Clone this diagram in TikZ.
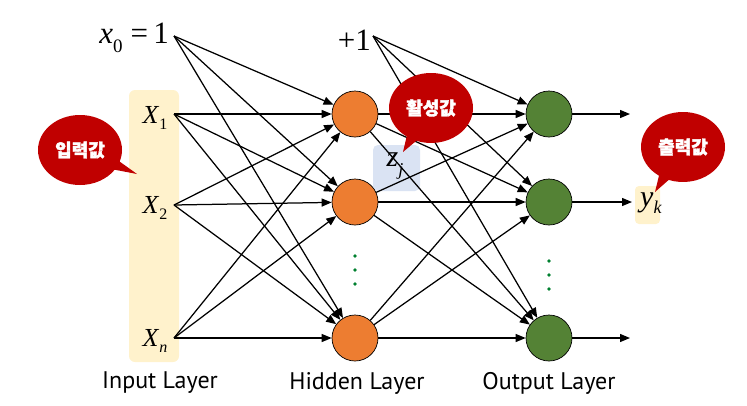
\documentclass[tikz,border=0pt]{standalone}
\usepackage{fontspec}
\setmainfont{Liberation Serif}
\newfontfamily\krfont{Noto Sans CJK KR}[FakeBold=2]
\newfontfamily\labfont{PT Sans}
\usetikzlibrary{arrows.meta,shapes.callouts,shapes.geometric}
\definecolor{hid}{HTML}{ED7D31}
\definecolor{outc}{HTML}{548235}
\definecolor{bub}{HTML}{C00000}
\definecolor{yel}{HTML}{FFF2CC}
\definecolor{blu}{HTML}{DAE3F3}
\definecolor{dotc}{HTML}{00802F}
\tikzset{
  neuron/.style={circle,draw=black,line width=0.7pt,minimum size=46pt,inner sep=0pt},
  hidn/.style={neuron,fill=hid},
  outn/.style={neuron,fill=outc},
  arr/.style={line width=1.25pt,-{Triangle[length=10pt,width=8pt]}},
  bubble/.style={ellipse callout,fill=bub,text=white,font=\krfont\bfseries\fontsize{18}{20}\selectfont,minimum width=84pt,minimum height=70pt,inner sep=0pt},
  lay/.style={font=\labfont\fontsize{24}{26}\selectfont},
  vlab/.style={font=\fontsize{26}{28}\selectfont,inner sep=0pt},
  dotn/.style={circle,fill=dotc,minimum size=3.8pt,inner sep=0pt}
}
\newcommand{\xsub}[2]{\textit{#1}\raisebox{-0.45ex}{\fontsize{16}{16}\selectfont #2}}
\begin{document}
\begin{tikzpicture}[x=1pt,y=-1pt]
\useasboundingbox (0,0) rectangle (747,405);
% background boxes
\fill[yel,rounded corners=6pt] (129,90) rectangle (179,362);
\fill[yel,rounded corners=4pt] (635,186) rectangle (660,224);
\fill[blu,rounded corners=5pt] (373,145) rectangle (420,191);
% neurons
\node[hidn] (h1) at (355,114) {};
\node[hidn] (h2) at (355,202) {};
\node[hidn] (h3) at (355,338) {};
\node[outn] (o1) at (549,114) {};
\node[outn] (o2) at (549,202) {};
\node[outn] (o3) at (549,338) {};
% input labels
\node[anchor=east,inner sep=0pt,font=\fontsize{31}{33}\selectfont] (x0) at (169,38) {\textit{x}\raisebox{-0.6ex}{\fontsize{19}{19}\selectfont 0}\hspace{8pt}=\,1};
\node[vlab] (x1) at (155,118) {\xsub{X}{1}};
\node[vlab] (x2) at (155,208) {\xsub{X}{2}};
\node[vlab] (xn) at (155,341) {\xsub{X}{\textit{n}}};
\node[anchor=east,inner sep=0pt,font=\fontsize{31}{33}\selectfont] (bias) at (371,40) {+1};
\coordinate (i0) at (174,36);
\coordinate (i1) at (174,114);
\coordinate (i2) at (174,205);
\coordinate (in) at (174,338);
\coordinate (b) at (373,36);
% connections
\foreach \s in {i0,i1,i2,in}{
  \foreach \t in {h1,h2,h3}{\draw[arr] (\s) -- (\t);}
}
\foreach \s in {b,h1,h2,h3}{
  \foreach \t in {o1,o2,o3}{\draw[arr] (\s) -- (\t);}
}
\coordinate (e1) at (630,114);
\coordinate (e2) at (632,202);
\coordinate (e3) at (630,338);
\draw[arr] (o1) -- (e1);
\draw[arr] (o2) -- (e2);
\draw[arr] (o3) -- (e3);
% z_j and y_k
\node[inner sep=0pt,font=\fontsize{30}{32}\selectfont] (zj) at (395,166) {\textit{z}\raisebox{-0.7ex}{\fontsize{18}{18}\selectfont\textit{j}}};
\node[inner sep=0pt,font=\fontsize{30}{32}\selectfont] (yk) at (651,203) {\textit{y}\raisebox{-0.5ex}{\fontsize{18}{18}\selectfont\textit{k}}};
% dots
\foreach \yy in {256,270,284}{\node[dotn] (hd\yy) at (355,\yy) {};}
\foreach \yy in {261,275,289}{\node[dotn] (od\yy) at (549,\yy) {};}
% bubbles
\node[bubble,callout absolute pointer={(137,174)}] (bin) at (80,150) {입력값};
\node[bubble,callout absolute pointer={(403,152)}] (bact) at (431,108) {활성값};
\node[bubble,callout absolute pointer={(655,192)}] (bout) at (683,147) {출력값};
% layer labels
\node[lay] (lin) at (160,383) {Input Layer};
\node[lay] (lhid) at (357,383) {Hidden Layer};
\node[lay] (lout) at (549,383) {Output Layer};
\end{tikzpicture}
\end{document}
